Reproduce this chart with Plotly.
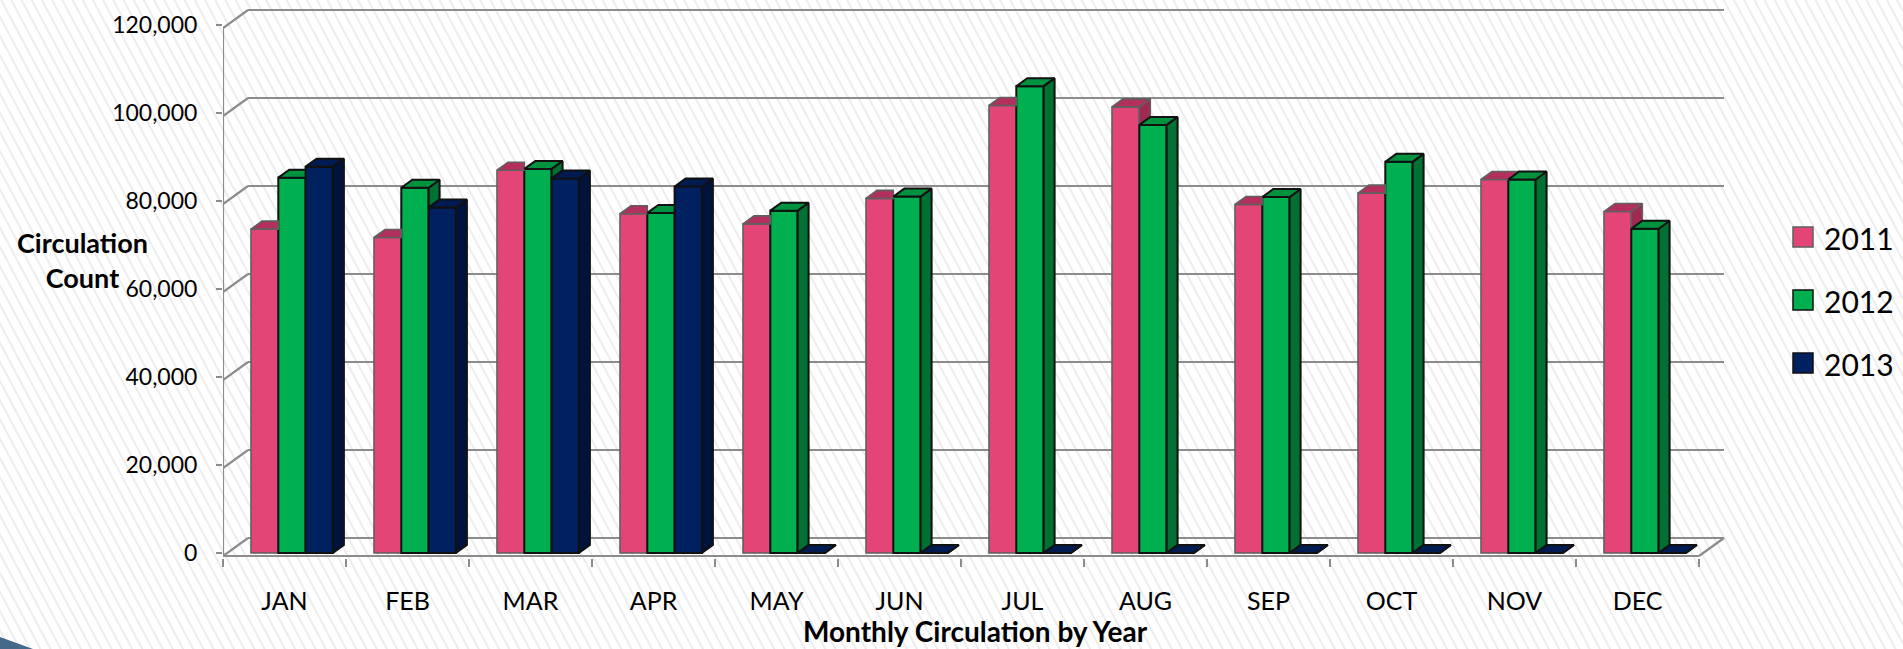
import base64
import plotly.graph_objects as go

# ---------------- data ----------------
months = ["JAN", "FEB", "MAR", "APR", "MAY", "JUN", "JUL", "AUG", "SEP", "OCT", "NOV", "DEC"]
years = ["2011", "2012", "2013"]
circ_2011 = [73600, 71700, 87000, 77100, 74800, 80600, 101700, 101400, 79200, 81800, 84900, 77600]
circ_2012 = [85300, 83000, 87300, 77300, 77800, 81000, 106100, 97300, 80900, 88900, 84900, 73700]
circ_2013 = [87800, 78500, 85100, 83300, 0, 0, 0, 0, 0, 0, 0, 0]
y_ticks = [0, 20000, 40000, 60000, 80000, 100000, 120000]
y_title = "Circulation<br>Count"
x_title = "Monthly Circulation by Year"

series = [circ_2011, circ_2012, circ_2013]
front_col = ["#E44577", "#00B050", "#002060"]
top_col = ["#B3305E", "#00933F", "#001B52"]
side_col = ["#A02A52", "#007033", "#00133C"]
edge_col = ["#5F5F5F", "#111111", "#111111"]
edge_w = [1.6, 2, 2]
FONT = "Lato"

# ---------------- geometry (pixels -> data) ----------------
W, H = 1903, 649
PL, PR, PT, PB = 223, 1732, 0, 558       # plot-area box in pixels
CAT_PX = 123.0                           # pixels per category
Y_PER_PX = 20000 / 88.0                  # value units per pixel
Y0_PX = 553                              # pixel row of value 0 (bar base)

x_range = [-0.5, -0.5 + (PR - PL) / CAT_PX]
y_range = [(Y0_PX - PB) * Y_PER_PX, (Y0_PX - PT) * Y_PER_PX]

BW = 27.3 / CAT_PX                       # bar width (category units)
OFF0 = (251 - 284.5) / CAT_PX            # offset of first bar from category centre
offsets = [OFF0 + k * BW for k in range(3)]
DX, DY = 11 / CAT_PX, 8 * Y_PER_PX       # bar depth (side / top faces)
WX, WY = 25 / CAT_PX, 18 * Y_PER_PX      # wall depth
FRONT_Y = (Y0_PX - 556) * Y_PER_PX       # front edge shift


def px2paper(px, py):
    return (px - PL) / (PR - PL), (PB - py) / (PB - PT)


xs = list(range(len(months)))
fig = go.Figure()

# front faces
for i, yr in enumerate(years):
    fig.add_trace(go.Bar(
        x=xs, y=series[i], width=BW, offset=offsets[i], name=yr,
        marker=dict(color=front_col[i], line=dict(color=edge_col[i], width=edge_w[i])),
        hoverinfo="skip", showlegend=False))

# 3D side and top faces
for i in range(3):
    sx, sy, tx, ty = [], [], [], []
    for j in xs:
        v = series[i][j]
        xl = j + offsets[i]
        xr = xl + BW
        nxt = series[i + 1][j] if i < 2 else None
        lo = 0 if nxt is None else nxt
        if nxt is None or v > nxt:
            sx += [xr, xr + DX, xr + DX, xr, xr, None]
            sy += [lo, lo + DY, v + DY, v, lo, None]
        if nxt is None or v >= nxt:
            tx += [xl, xl + DX, xr + DX, xr, xl, None]
            ty += [v, v + DY, v + DY, v, v, None]
        else:
            tx += [xl, xl + DX, xr, xr, xl, None]
            ty += [v, v + DY, v + DY, v, v, None]
    fig.add_trace(go.Scatter(x=sx, y=sy, mode="lines", fill="toself", fillcolor=side_col[i],
                             line=dict(color=edge_col[i], width=edge_w[i]),
                             hoverinfo="skip", showlegend=False))
    fig.add_trace(go.Scatter(x=tx, y=ty, mode="lines", fill="toself", fillcolor=top_col[i],
                             line=dict(color=edge_col[i], width=edge_w[i]),
                             hoverinfo="skip", showlegend=False))

# walls / gridlines
GRID = "#8C8C8C"
shapes = []
xb0, xb1 = -0.5 + WX, len(months) - 0.5 + WX
for v in y_ticks:
    shapes.append(dict(type="line", xref="x", yref="y", x0=xb0, x1=xb1,
                       y0=v + FRONT_Y + WY, y1=v + FRONT_Y + WY,
                       line=dict(color=GRID, width=2.2), layer="below"))
    shapes.append(dict(type="line", xref="x", yref="y", x0=-0.5, x1=xb0,
                       y0=v + FRONT_Y, y1=v + FRONT_Y + WY,
                       line=dict(color=GRID, width=2.2), layer="below"))
shapes.append(dict(type="line", xref="x", yref="y", x0=-0.5, x1=-0.5,
                   y0=FRONT_Y, y1=y_ticks[-1] + FRONT_Y, line=dict(color=GRID, width=2.2), layer="below"))
shapes.append(dict(type="line", xref="x", yref="y", x0=-0.5, x1=len(months) - 0.5,
                   y0=FRONT_Y, y1=FRONT_Y, line=dict(color=GRID, width=2.2), layer="below"))
shapes.append(dict(type="line", xref="x", yref="y", x0=len(months) - 0.5, x1=xb1,
                   y0=FRONT_Y, y1=FRONT_Y + WY, line=dict(color=GRID, width=2.2), layer="below"))

# corner decoration (bottom-left)
a = px2paper(0, 649); b = px2paper(0, 637); c = px2paper(33, 649)
shapes.append(dict(type="path", xref="paper", yref="paper",
                   path=f"M {a[0]},{a[1]} L {b[0]},{b[1]} L {c[0]},{c[1]} Z",
                   fillcolor="#46698A", line=dict(width=0)))

# manual legend
annotations = []
for i, yr in enumerate(years):
    cy = 237 + 63 * i
    p0 = px2paper(1793, cy - 10); p1 = px2paper(1813, cy + 10)
    shapes.append(dict(type="rect", xref="paper", yref="paper", x0=p0[0], x1=p1[0], y0=p1[1], y1=p0[1],
                       fillcolor=front_col[i], line=dict(color=edge_col[i], width=1.5)))
    t = px2paper(1822, cy + 1)
    annotations.append(dict(xref="paper", yref="paper", x=t[0], y=t[1], text=yr, showarrow=False,
                            xanchor="left", yanchor="middle", font=dict(family=FONT, size=30, color="#000")))

t = px2paper(82, 260)
annotations.append(dict(xref="paper", yref="paper", x=t[0], y=t[1], text=y_title, showarrow=False,
                        xanchor="center", yanchor="middle", align="center",
                        font=dict(family=FONT, size=27, color="#000", weight="bold")))
t = px2paper(975, 631)
annotations.append(dict(xref="paper", yref="paper", x=t[0], y=t[1], text=x_title, showarrow=False,
                        xanchor="center", yanchor="middle",
                        font=dict(family=FONT, size=28, color="#000", weight="bold")))

# striped background
svg = ("<svg xmlns='http://www.w3.org/2000/svg' width='1903' height='649' preserveAspectRatio='none'>"
       "<defs><pattern id='p' width='9' height='40' patternUnits='userSpaceOnUse' patternTransform='rotate(-28)'>"
       "<rect x='0' y='0' width='2' height='40' fill='#EDEDED'/></pattern></defs>"
       "<rect width='1903' height='649' fill='#FFFFFF'/><rect width='1903' height='649' fill='url(#p)'/></svg>")
src = "data:image/svg+xml;base64," + base64.b64encode(svg.encode()).decode()
i0 = px2paper(0, 0)

fig.update_layout(
    width=W, height=H, autosize=False,
    margin=dict(l=PL, r=W - PR, t=PT, b=H - PB, pad=0),
    paper_bgcolor="#FFFFFF", plot_bgcolor="#FFFFFF",
    barmode="overlay", showlegend=False, hovermode=False,
    font=dict(family=FONT, color="#000"),
    shapes=shapes, annotations=annotations,
    images=[dict(source=src, xref="paper", yref="paper", x=i0[0], y=i0[1],
                 sizex=W / (PR - PL), sizey=H / (PB - PT), xanchor="left", yanchor="top",
                 sizing="stretch", layer="below")],
    xaxis=dict(range=x_range, tickmode="array", tickvals=xs, ticktext=months,
               ticks="", showgrid=False, zeroline=False, showline=False,
               tickfont=dict(family=FONT, size=25, color="#000"), ticklabelstandoff=26,
               minor=dict(ticks="outside", tick0=-0.5, dtick=1, ticklen=8, tickwidth=2,
                          tickcolor=GRID, showgrid=False)),
    yaxis=dict(range=y_range, tickmode="array", tickvals=y_ticks, tickformat=",d",
               ticks="outside", ticklen=6, tickwidth=2, tickcolor=GRID,
               showgrid=False, zeroline=False, showline=False,
               tickfont=dict(family=FONT, size=23, color="#000"), ticklabelstandoff=14),
)

fig.write_html("out.html", config={"displayModeBar": False, "staticPlot": True},
               post_script="document.body.style.margin='0';document.body.style.overflow='hidden';")
